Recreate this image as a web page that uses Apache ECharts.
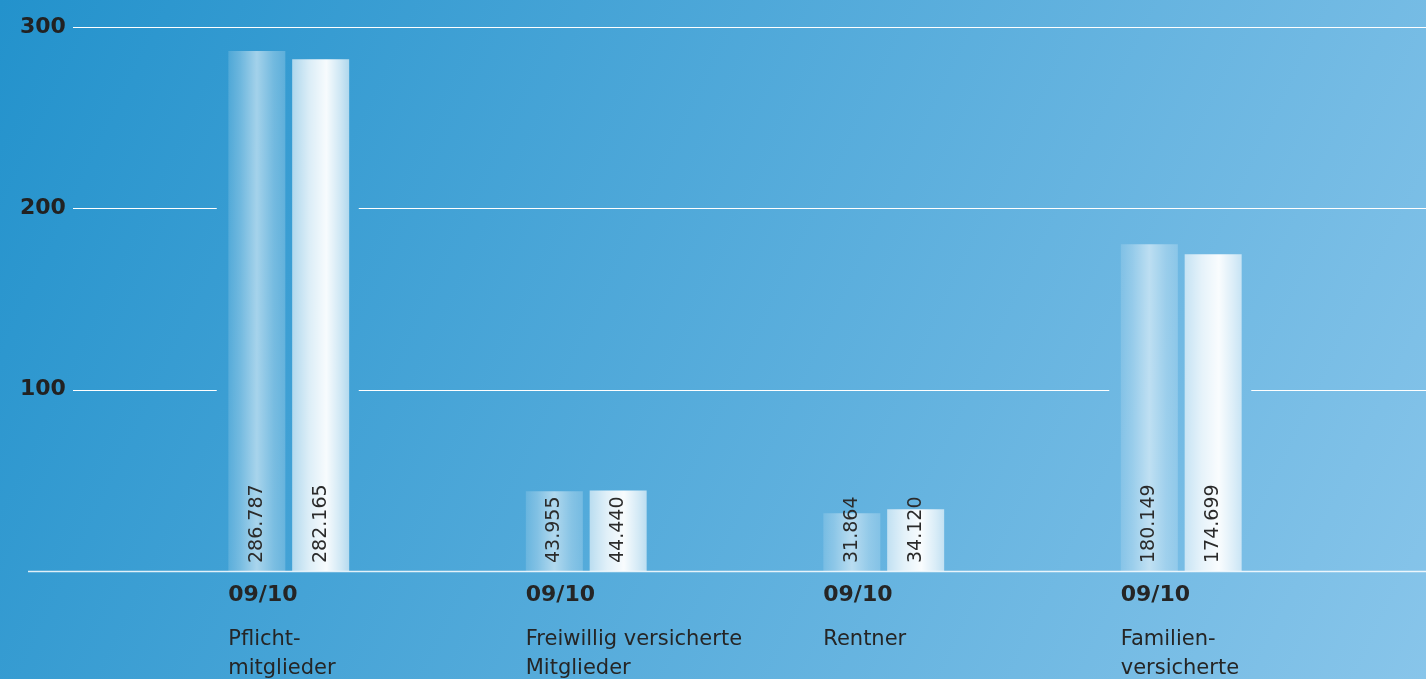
<!DOCTYPE html>
<html>
<head>
<meta charset="utf-8">
<script src="https://cdn.jsdelivr.net/npm/echarts@6/dist/echarts.min.js"></script>
<style>
  html, body { margin: 0; padding: 0; }
  #chart { width: 1426px; height: 679px; }
</style>
</head>
<body>
<div id="chart"></div>
<script>
// ---- Data ----
const categories = ['Pflicht-\nmitglieder', 'Freiwillig versicherte\nMitglieder', 'Rentner', 'Familien-\nversicherte'];
const periodLabel = '09/10';
const values09 = [286787, 43955, 31864, 180149];
const values10 = [282165, 44440, 34120, 174699];
const yTicks = [0, 100000, 200000, 300000];

// ---- Helpers ----
function fmtDE(v) {
  return String(Math.round(v)).replace(/\B(?=(\d{3})+(?!\d))/g, '.');
}
const FONT = 'DejaVu Sans';
const BAR_W = 57;
const groupMax = categories.map((c, i) => Math.max(values09[i], values10[i]));

const chart = echarts.init(document.getElementById('chart'), null, { renderer: 'canvas' });

const gridRenderer = function (params, api) {
  const v = api.value(0);
  const cs = params.coordSys;
  const y = Math.round(api.coord([0, v])[1]) + 0.5;
  const bandW = api.size([1, 0])[0];
  const right = api.getWidth();
  let start;
  if (v === 0) {
    start = cs.x - 112;
  } else {
    start = cs.x - 67;
  }
  const segs = [];
  if (v > 0) {
    categories.forEach((c, i) => {
      if (groupMax[i] > v) {
        const cx = api.coord([i, 0])[0];
        const gl = cx - BAR_W - 15;
        const gr = cx + BAR_W + 13;
        segs.push([start, gl]);
        start = gr;
      }
    });
  }
  segs.push([start, right]);
  return {
    type: 'group',
    children: segs.map(s => ({
      type: 'line',
      shape: { x1: s[0], y1: y, x2: s[1], y2: y },
      style: { stroke: v === 0 ? 'rgba(255,255,255,0.85)' : '#ffffff', lineWidth: v === 0 ? 1.6 : 1.2 },
      silent: true
    }))
  };
};

const labelCommon = {
  show: true,
  position: 'insideBottom',
  rotate: 90,
  align: 'left',
  verticalAlign: 'middle',
  distance: 8,
  color: '#2b2b2b',
  fontFamily: FONT,
  fontSize: 19,
  formatter: p => fmtDE(p.value)
};

const option = {
  animation: false,
  backgroundColor: new echarts.graphic.LinearGradient(0, 0, 1, 1, [
    { offset: 0, color: '#2392cc' },
    { offset: 1, color: '#88c5ea' }
  ]),
  grid: { left: 140, right: 96, top: 27, bottom: 108, containLabel: false },
  xAxis: {
    type: 'category',
    data: categories,
    boundaryGap: true,
    axisLine: { show: false },
    axisTick: { show: false },
    splitLine: { show: false },
    axisLabel: {
      interval: 0,
      margin: 9,
      align: 'center',
      overflow: 'none',
      formatter: function (val) {
        const lines = val.split('\n').map(l => '{n|' + l + '}').join('\n');
        return '{p|' + periodLabel + '}\n{s| }\n' + lines;
      },
      rich: {
        p: { fontFamily: FONT, fontWeight: 'bold', fontSize: 22, lineHeight: 30, color: '#252525', width: 121, align: 'left' },
        s: { fontSize: 2, lineHeight: 15, width: 121, align: 'left' },
        n: { fontFamily: FONT, fontSize: 21, lineHeight: 29, color: '#252525', width: 121, align: 'left' }
      }
    }
  },
  yAxis: {
    type: 'value',
    min: 0,
    max: 300000,
    interval: 100000,
    axisLine: { show: false },
    axisTick: { show: false },
    splitLine: { show: false },
    axisLabel: {
      margin: 120,
      align: 'left',
      verticalAlign: 'middle',
      padding: [0, 0, 11, 0],
      fontFamily: FONT,
      fontWeight: 'bold',
      fontSize: 22,
      color: '#222222',
      formatter: v => (v === 0 ? '' : String(v / 1000))
    }
  },
  series: [
    {
      type: 'custom',
      name: 'grid',
      z: 1,
      clip: false,
      silent: true,
      renderItem: gridRenderer,
      data: yTicks.map(t => [t]),
      encode: { y: 0 },
      coordinateSystem: 'cartesian2d'
    },
    {
      type: 'bar',
      name: '09',
      z: 3,
      barWidth: BAR_W,
      barGap: '12%',
      data: values09,
      itemStyle: {
        color: new echarts.graphic.LinearGradient(0, 0, 1, 0, [
          { offset: 0, color: 'rgba(255,255,255,0.14)' },
          { offset: 0.2, color: 'rgba(255,255,255,0.28)' },
          { offset: 0.5, color: 'rgba(255,255,255,0.55)' },
          { offset: 0.8, color: 'rgba(255,255,255,0.3)' },
          { offset: 1, color: 'rgba(255,255,255,0.2)' }
        ])
      },
      label: labelCommon
    },
    {
      type: 'bar',
      name: '10',
      z: 3,
      barWidth: BAR_W,
      barGap: '12%',
      data: values10,
      itemStyle: {
        color: new echarts.graphic.LinearGradient(0, 0, 1, 0, [
          { offset: 0, color: 'rgba(255,255,255,0.6)' },
          { offset: 0.3, color: 'rgba(255,255,255,0.82)' },
          { offset: 0.6, color: 'rgba(255,255,255,0.96)' },
          { offset: 0.85, color: 'rgba(255,255,255,0.75)' },
          { offset: 1, color: 'rgba(255,255,255,0.6)' }
        ])
      },
      label: labelCommon
    }
  ]
};

chart.setOption(option);
</script>
</body>
</html>
